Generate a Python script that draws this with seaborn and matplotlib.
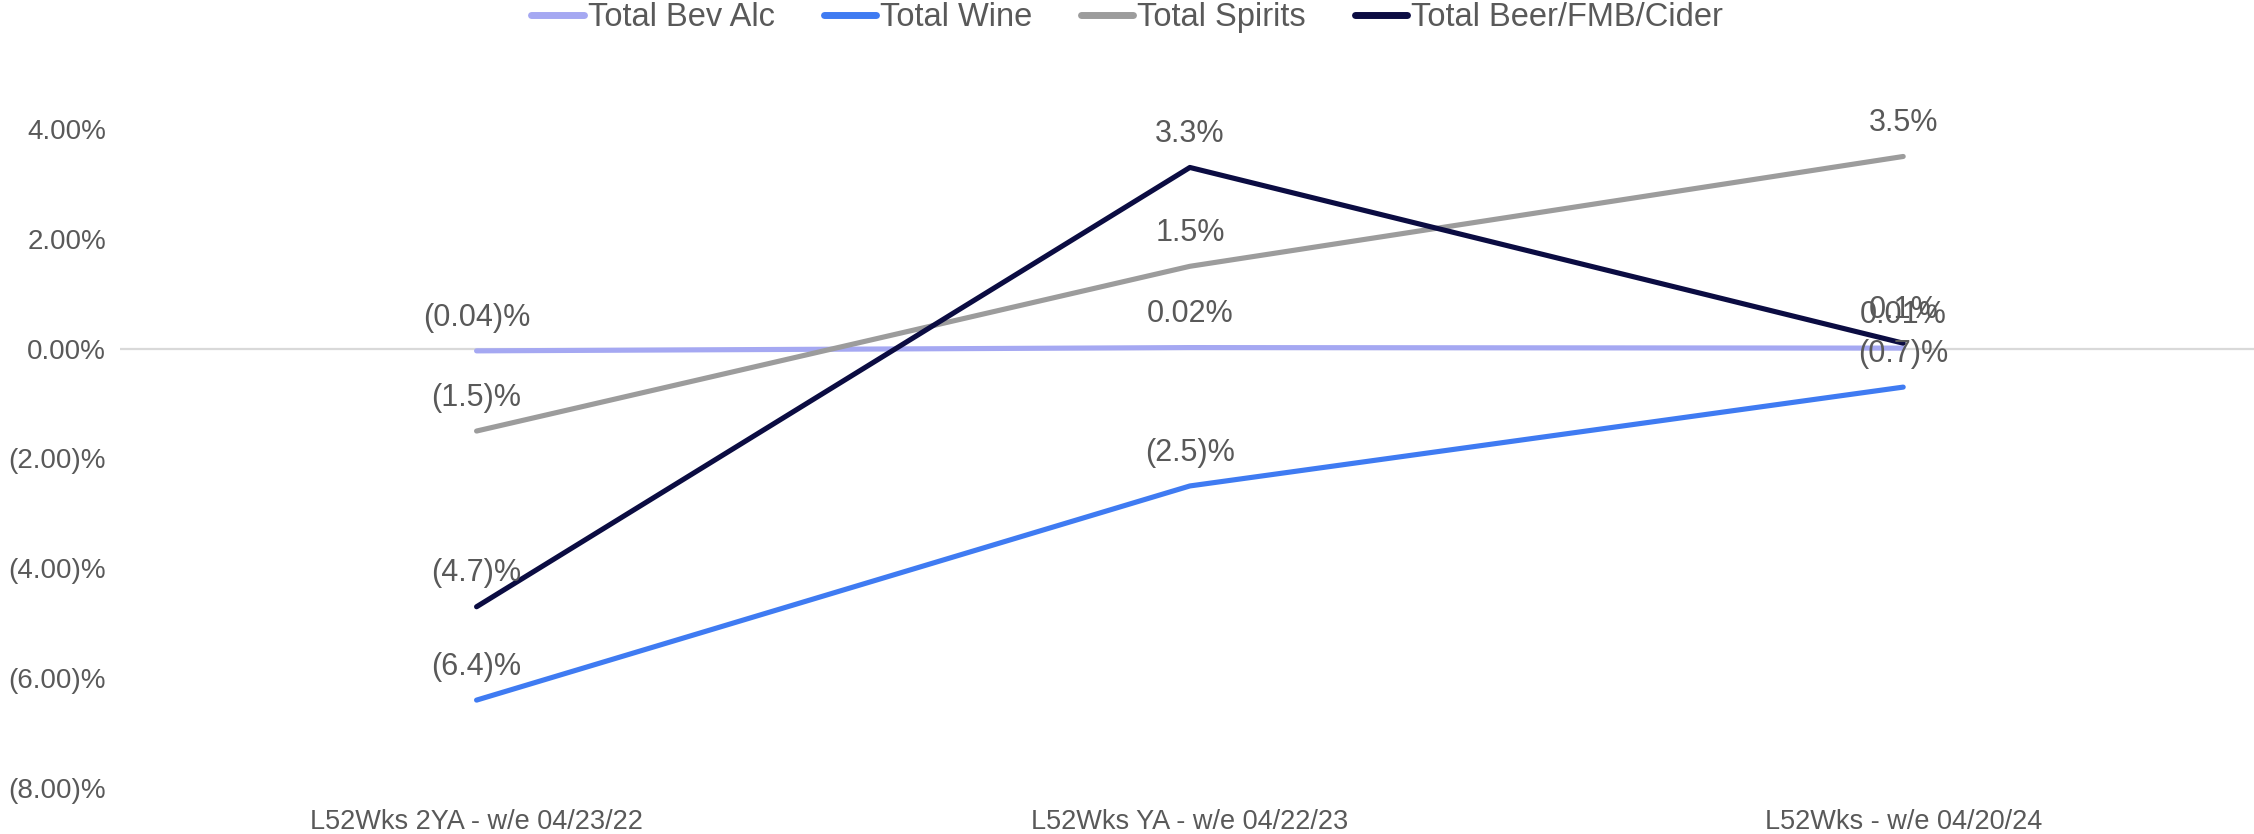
import matplotlib
matplotlib.use("Agg")
import matplotlib.pyplot as plt
import seaborn as sns
import pandas as pd
from matplotlib.ticker import FuncFormatter
from matplotlib.lines import Line2D

# Period labels (x categories)
periods = [
    "L52Wks 2YA - w/e 04/23/22",
    "L52Wks YA - w/e 04/22/23",
    "L52Wks - w/e 04/20/24",
]

# Dollar growth vs. prior year, percent
bev_alc = [-0.04, 0.02, 0.01]
wine = [-6.4, -2.5, -0.7]
spirits = [-1.5, 1.5, 3.5]
beer_fmb_cider = [-4.7, 3.3, 0.1]

series_names = ["Total Bev Alc", "Total Wine", "Total Spirits", "Total Beer/FMB/Cider"]
series_values = [bev_alc, wine, spirits, beer_fmb_cider]
label_decimals = [2, 1, 1, 1]
colors = ["#A5A8F2", "#3F7BF2", "#9C9C9C", "#0B0C42"]

rows = []
for name, vals in zip(series_names, series_values):
    for i, v in enumerate(vals):
        rows.append({"period": i, "series": name, "value": v})
df = pd.DataFrame(rows)

sns.set_theme(style="white")
plt.rcParams["font.family"] = ["Liberation Sans", "DejaVu Sans"]
text_color = "#595959"

fig = plt.figure(figsize=(22.54, 8.34), dpi=100)
ax = fig.add_axes([0.0532, 0.0552, 0.9494, 0.7901])

# zero reference line
ax.axhline(0, color="#D9D9D9", lw=1.6, zorder=1)

sns.lineplot(
    data=df, x="period", y="value", hue="series",
    hue_order=series_names, palette=colors,
    linewidth=3.7, ax=ax, legend=False, zorder=3,
    solid_capstyle="round",
)


def fmt_pct(v, dec):
    s = f"{abs(v):.{dec}f}"
    return f"({s})%" if v < 0 else f"{s}%"


# value labels above each point
for name, vals, dec in zip(series_names, series_values, label_decimals):
    for i, v in enumerate(vals):
        ax.annotate(fmt_pct(v, dec), xy=(i, v), xytext=(0, 24),
                    textcoords="offset points", ha="center", va="center",
                    fontsize=22, color=text_color, annotation_clip=False, zorder=4)

ax.set_xlim(-0.5, 2.5)
ax.set_ylim(-8, 4)
ax.set_xticks(range(len(periods)))
ax.set_xticklabels(periods)
ax.set_yticks([-8, -6, -4, -2, 0, 2, 4])
ax.yaxis.set_major_formatter(FuncFormatter(
    lambda v, p: f"({abs(v):.2f})%" if v < 0 else f"{v:.2f}%"))
ax.tick_params(axis="y", length=0, pad=10, labelsize=20, labelcolor=text_color)
ax.tick_params(axis="x", length=0, pad=15, labelsize=19.5, labelcolor=text_color)
ax.set_xlabel("")
ax.set_ylabel("")
for sp in ax.spines.values():
    sp.set_visible(False)
ax.grid(False)

# legend across the top
handles = [Line2D([0], [0], color=c, lw=5, solid_capstyle="round") for c in colors]
fig.legend(handles, series_names, loc="center", bbox_to_anchor=(0.5, 0.979),
           ncol=4, frameon=False, fontsize=23.5, labelcolor=text_color,
           handlelength=1.6, handletextpad=0.12, columnspacing=1.5,
           borderaxespad=0)

fig.savefig("out.png", dpi=100)
